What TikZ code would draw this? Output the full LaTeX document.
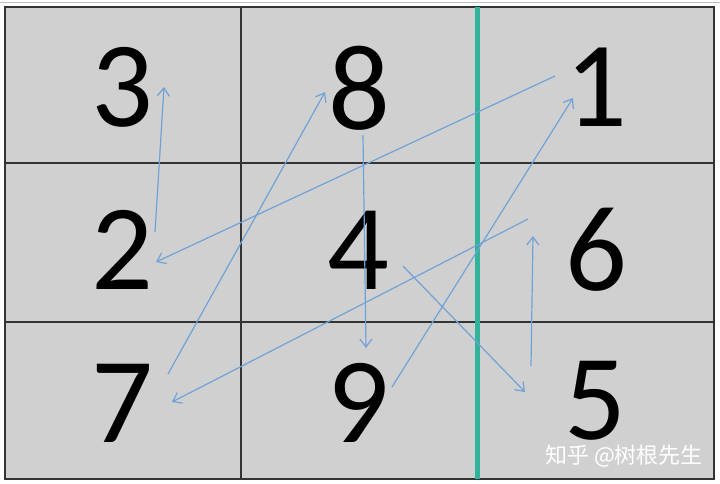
\documentclass[tikz,border=0pt]{standalone}
\usepackage{fontspec}
\usepackage{tikz}
\usepackage{xcolor}
\usetikzlibrary{arrows.meta}
\newfontfamily\digitfont{Carlito}
\newfontfamily\cjkfont{Noto Sans CJK SC}
\definecolor{cellgray}{RGB}{208,208,208}
\definecolor{arrblue}{RGB}{112,162,216}
\definecolor{splitgreen}{RGB}{48,178,155}

\begin{document}
\begin{tikzpicture}[x=1pt,y=-1pt]
	\tikzstyle{num} = [inner sep=0pt, font=\digitfont\fontsize{122}{130}\selectfont]
	\tikzstyle{arr} = [draw=arrblue, line width=1.2pt, -{Straight Barb[length=8pt,width=12pt]}]
	\tikzstyle{grid} = [draw=black!80, line width=1.3pt]
	\useasboundingbox (0,0) rectangle (720,484);
	\fill [white] (0,0) rectangle (720,484);
	\draw [gray!50] (0,2) -- (720,2);
	% cells
	\filldraw [fill=cellgray, grid] (5,7) rectangle (714,479);
	\draw [grid] (241,7) -- (241,479)
			(5,163) -- (714,163)
			(5,322) -- (714,322);
	\draw [splitgreen, line width=5pt] (477,7) -- (477,479);
	% numbers
		\node[num] (n3) at (122,87)  {3};
		\node[num] (n8) at (359,88)  {8};
		\node[num] (n1) at (596,87)  {1};
		\node[num] (n2) at (122,250) {2};
		\node[num] (n4) at (358,250) {4};
		\node[num] (n6) at (596,250) {6};
		\node[num] (n7) at (122,403) {7};
		\node[num] (n9) at (358,403) {9};
		\node[num] (n5) at (595,401) {5};
	% arrow ends
		\coordinate (o1) at (555,76);
		\coordinate (i2) at (156,262);
		\coordinate (o2) at (155,232);
		\coordinate (i3) at (164,87);
		\coordinate (o4) at (403,266);
		\coordinate (i5) at (525,392);
		\coordinate (o5) at (531,366);
		\coordinate (i6) at (533,236);
		\coordinate (o6) at (528,219);
		\coordinate (i7) at (172,402);
		\coordinate (o7) at (168,374);
		\coordinate (i8) at (325,92);
		\coordinate (o8) at (363,135);
		\coordinate (i9) at (366,348);
		\coordinate (o9) at (392,387);
		\coordinate (i1) at (573,98);
	\draw [arr] (o1) -- (i2);
	\draw [arr] (o2) -- (i3);
	\draw [arr] (o4) -- (i5);
	\draw [arr] (o5) -- (i6);
	\draw [arr] (o6) -- (i7);
	\draw [arr] (o7) -- (i8);
	\draw [arr] (o8) -- (i9);
	\draw [arr] (o9) -- (i1);
	% watermark
		\node[text=white, inner sep=0pt, font=\cjkfont\fontsize{22}{22}\selectfont] (wm) at (624,456) {知乎 @树根先生};
\end{tikzpicture}
\end{document}
